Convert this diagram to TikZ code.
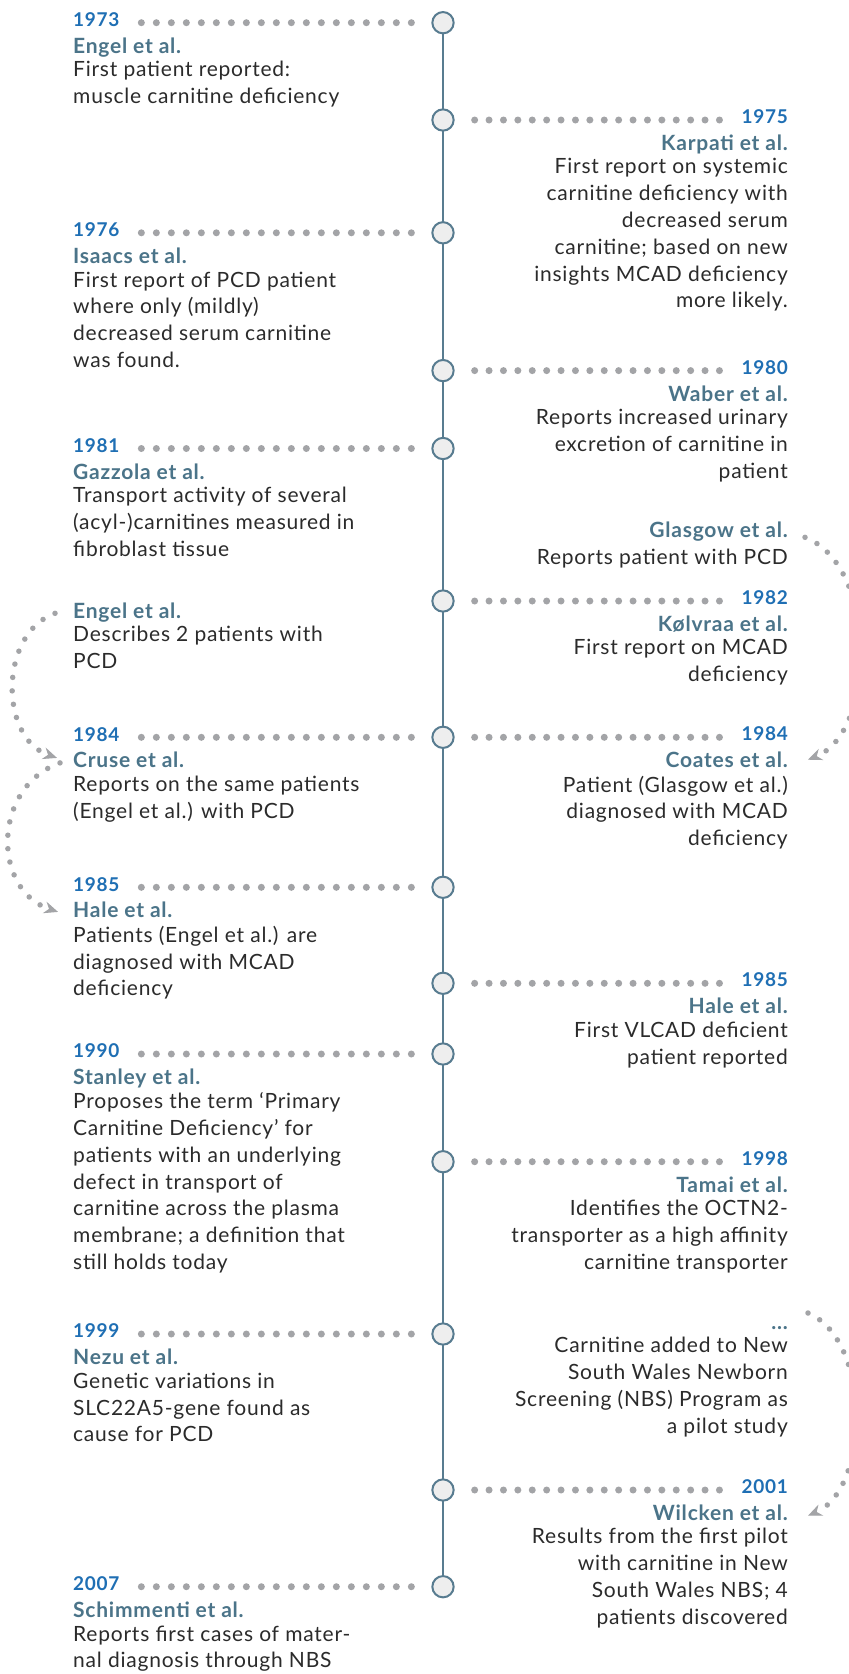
\documentclass[tikz,border=0pt]{standalone}
\usepackage{fontspec}
\setmainfont{Lato}[LetterSpace=3.7]
\usepackage{tikz}
\usetikzlibrary{arrows.meta}
\usetikzlibrary{positioning}
\usepackage{xcolor}

\definecolor{yearblue}{HTML}{1F6FB4}
\definecolor{authslate}{HTML}{4B7489}
\definecolor{bodygray}{HTML}{2B2B2B}
\definecolor{axisslate}{HTML}{587C90}
\definecolor{dotgray}{HTML}{A3A4A7}
\definecolor{ringfill}{HTML}{EEEEEE}

\begin{document}
\begin{tikzpicture}[x=1pt,y=-1pt,
    ring/.style={circle,draw=axisslate,fill=ringfill,line width=2pt,minimum size=21.3pt,inner sep=0pt},
    yr/.style={font=\bfseries\fontsize{19}{20}\selectfont,text=yearblue,inner sep=0pt},
    auth/.style={font=\bfseries\fontsize{21}{26.8}\selectfont,text=authslate,inner sep=0pt},
    txt/.style={font=\fontsize{21}{26.8}\selectfont,text=bodygray,inner sep=0pt,execute at begin node=\strut},
    lead/.style={dotgray,line width=7pt,line cap=round,dash pattern=on 0pt off 15pt,shorten <=20pt},
    link/.style={dotgray,line width=5.5pt,line cap=round,dash pattern=on 0pt off 13.5pt,
        -{Stealth[length=14pt,width=12pt,line width=1pt]}}]

    \useasboundingbox[fill=white] (0,0) rectangle (849,1674);

    % timeline
    \coordinate (top) at (443,22.7);
    \coordinate (bot) at (443,1586.7);
    \coordinate (lstop) at (138,0);
    \coordinate (rstop) at (722,0);
    \draw[axisslate,line width=2.4pt] (top) -- (bot);

    \foreach \nm/\yy in {73/22.7,75/120,76/232.8,80/370.6,81/448.5,82/601,84/737.3,85a/887.3,
                         85b/983.3,90/1054,98/1161.7,99/1334,01/1490,07/1586.7}
        \node[ring] (c\nm) at (443,\yy) {};

    \foreach \nm in {73,76,81,84,85a,90,99,07}
        \draw[lead] (c\nm) -- (c\nm -| lstop);
    \foreach \nm in {75,80,82,84,85b,98,01}
        \draw[lead,dash pattern=on 0pt off 14.4pt] (c\nm) -- (c\nm -| rstop);

    % left side
    \node[yr,anchor=base west] (y73) at (73,26.5) {1973};
    \node[auth,anchor=base west] (a73) at ([yshift=-26.8pt]y73.base west) {Engel et al.};
    \node[txt,align=left,below right=8pt and 0pt of a73.base west] (t73) {First patient reported:\\muscle carnitine deficiency};

    \node[yr,anchor=base west] (y76) at (73,236.6) {1976};
    \node[auth,anchor=base west] (a76) at ([yshift=-26.8pt]y76.base west) {Isaacs et al.};
    \node[txt,align=left,below right=8pt and 0pt of a76.base west] (t76) {First report of PCD patient\\where only (mildly)\\decreased serum carnitine\\was found.};

    \node[yr,anchor=base west] (y81) at (73,452.3) {1981};
    \node[auth,anchor=base west] (a81) at ([yshift=-26.8pt]y81.base west) {Gazzola et al.};
    \node[txt,align=left,below right=8pt and 0pt of a81.base west] (t81) {Transport activity of several\\(acyl-)carnitines measured in\\fibroblast tissue};

    \node[auth,anchor=base west] (aEn) at (73,618.3) {Engel et al.};
    \node[txt,align=left,below right=8pt and 0pt of aEn.base west] (tEn) {Describes 2 patients with\\PCD};

    \node[yr,anchor=base west] (y84) at (73,741.1) {1984};
    \node[auth,anchor=base west] (a84) at ([yshift=-26.8pt]y84.base west) {Cruse et al.};
    \node[txt,align=left,below right=8pt and 0pt of a84.base west] (t84) {Reports on the same patients\\(Engel et al.) with PCD};

    \node[yr,anchor=base west] (y85a) at (73,891.1) {1985};
    \node[auth,anchor=base west] (a85a) at ([yshift=-26.8pt]y85a.base west) {Hale et al.};
    \node[txt,align=left,below right=8pt and 0pt of a85a.base west] (t85a) {Patients (Engel et al.) are\\diagnosed with MCAD\\deficiency};

    \node[yr,anchor=base west] (y90) at (73,1057.6) {1990};
    \node[auth,anchor=base west] (a90) at ([yshift=-26.8pt]y90.base west) {Stanley et al.};
    \node[txt,align=left,below right=8pt and 0pt of a90.base west] (t90) {Proposes the term ‘Primary\\Carnitine Deficiency’ for\\patients with an underlying\\defect in transport of\\carnitine across the plasma\\membrane; a definition that\\still holds today};

    \node[yr,anchor=base west] (y99) at (73,1337.8) {1999};
    \node[auth,anchor=base west] (a99) at ([yshift=-26.8pt]y99.base west) {Nezu et al.};
    \node[txt,align=left,below right=8pt and 0pt of a99.base west] (t99) {Genetic variations in\\SLC22A5-gene found as\\cause for PCD};

    \node[yr,anchor=base west] (y07) at (73,1590.7) {2007};
    \node[auth,anchor=base west] (a07) at ([yshift=-26.8pt]y07.base west) {Schimmenti et al.};
    \node[txt,align=left,below right=8pt and 0pt of a07.base west] (t07) {Reports first cases of mater-\\nal diagnosis through NBS};

    % right side
    \node[yr,anchor=base east] (y75) at (788,123.5) {1975};
    \node[auth,anchor=base east] (a75) at ([yshift=-26.8pt]y75.base east) {Karpati et al.};
    \node[txt,align=right,below left=8pt and 0pt of a75.base east] (t75) {First report on systemic\\carnitine deficiency with\\decreased serum\\carnitine; based on new\\insights MCAD deficiency\\more likely.};

    \node[yr,anchor=base east] (y80) at (788,374.2) {1980};
    \node[auth,anchor=base east] (a80) at ([yshift=-26.8pt]y80.base east) {Waber et al.};
    \node[txt,align=right,below left=8pt and 0pt of a80.base east] (t80) {Reports increased urinary\\excretion of carnitine in\\patient};

    \node[auth,anchor=base east] (aGl) at (788,537.3) {Glasgow et al.};
    \node[txt,align=right,below left=8pt and 0pt of aGl.base east] (tGl) {Reports patient with PCD};

    \node[yr,anchor=base east] (y82) at (788,604.6) {1982};
    \node[auth,anchor=base east] (a82) at ([yshift=-26.8pt]y82.base east) {Kølvraa et al.};
    \node[txt,align=right,below left=8pt and 0pt of a82.base east] (t82) {First report on MCAD\\deficiency};

    \node[yr,anchor=base east] (y84r) at (788,740.9) {1984};
    \node[auth,anchor=base east] (a84r) at ([yshift=-26.8pt]y84r.base east) {Coates et al.};
    \node[txt,align=right,below left=8pt and 0pt of a84r.base east] (t84r) {Patient (Glasgow et al.)\\diagnosed with MCAD\\deficiency};

    \node[yr,anchor=base east] (y85b) at (788,986.9) {1985};
    \node[auth,anchor=base east] (a85b) at ([yshift=-26.8pt]y85b.base east) {Hale et al.};
    \node[txt,align=right,below left=8pt and 0pt of a85b.base east] (t85b) {First VLCAD deficient\\patient reported};

    \node[yr,anchor=base east] (y98) at (788,1165.5) {1998};
    \node[auth,anchor=base east] (a98) at ([yshift=-26.8pt]y98.base east) {Tamai et al.};
    \node[txt,align=right,below left=8pt and 0pt of a98.base east] (t98) {Identifies the OCTN2-\\transporter as a high affinity\\carnitine transporter};

    \node[auth,anchor=base east] (aNs) at (788,1329) {...};
    \node[txt,align=right,below left=8pt and 0pt of aNs.base east] (tNs) {Carnitine added to New\\South Wales Newborn\\Screening (NBS) Program as\\a pilot study};

    \node[yr,anchor=base east] (y01) at (788,1493.4) {2001};
    \node[auth,anchor=base east] (a01) at ([yshift=-26.8pt]y01.base east) {Wilcken et al.};
    \node[txt,align=right,below left=8pt and 0pt of a01.base east] (t01) {Results from the first pilot\\with carnitine in New\\South Wales NBS; 4\\patients discovered};

    % curved links
    \draw[link] ([xshift=-18pt,yshift=5pt]aEn.base west) .. controls +(-56,20) and +(-58,-20) .. ([xshift=-16pt,yshift=10pt]a84.base west);
    \draw[link] ([xshift=-13pt,yshift=5pt]a84.base west) .. controls +(-68,24) and +(-66,-22) .. ([xshift=-15pt,yshift=6pt]a85a.base west);
    \draw[link] ([xshift=17pt,yshift=0pt]aGl.base east) .. controls +(73,28) and +(69,-28) .. ([xshift=20pt,yshift=8pt]a84r.base east);
    \draw[link] ([xshift=20pt,yshift=16pt]aNs.base east) .. controls +(64,27) and +(62,-27) .. ([xshift=20pt,yshift=4.5pt]a01.base east);

\end{tikzpicture}
\end{document}
